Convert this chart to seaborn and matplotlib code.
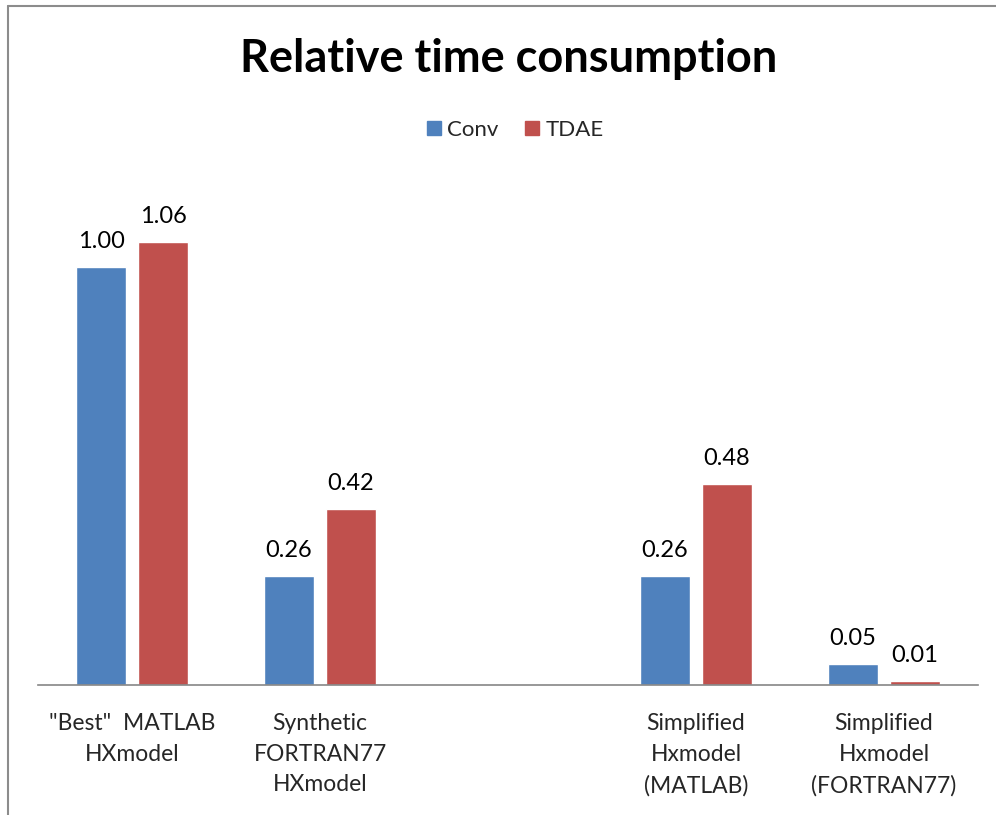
import seaborn as sns
import matplotlib.pyplot as plt
import pandas as pd
from matplotlib.lines import Line2D

# 資料
categories = ['"Best"  MATLAB\nHXmodel', 'Synthetic\nFORTRAN77\nHXmodel', '',
              'Simplified\nHxmodel\n(MATLAB)', 'Simplified\nHxmodel\n(FORTRAN77)']
series = ['Conv', 'TDAE']
conv_vals = [1.00, 0.26, None, 0.26, 0.05]
tdae_vals = [1.06, 0.42, None, 0.48, 0.01]
colors = ['#4F81BD', '#C0504D']

rows = []
for cat, c, t in zip(categories, conv_vals, tdae_vals):
    if c is not None:
        rows.append({'cat': cat, 'series': 'Conv', 'val': c})
    if t is not None:
        rows.append({'cat': cat, 'series': 'TDAE', 'val': t})
data = pd.DataFrame(rows)

sns.set_style("white")
plt.rcParams['font.family'] = ['Lato', 'DejaVu Sans']

fig = plt.figure(figsize=(9.96, 8.15), dpi=100)
ax = fig.add_axes([38 / 996, 130 / 815, 940 / 996, 501.6 / 815])

sns.barplot(data=data, x='cat', y='val', hue='series', order=categories,
            hue_order=series, palette=colors, width=0.66, gap=0.19,
            errorbar=None, ax=ax, legend=False, saturation=1)

for cont in ax.containers:
    ax.bar_label(cont, fmt='%.2f', padding=11, fontsize=17, color='black')

ax.set_ylim(0, 1.2)
ax.set_xlim(-0.5, len(categories) - 0.5)
ax.set_xlabel('')
ax.set_ylabel('')
ax.set_yticks([])
for s in ['top', 'right', 'left']:
    ax.spines[s].set_visible(False)
ax.spines['bottom'].set_color('#868686')
ax.spines['bottom'].set_linewidth(1.2)
ax.tick_params(axis='x', length=0, pad=20, labelsize=16.5)
for lab in ax.get_xticklabels():
    lab.set_linespacing(1.58)
    lab.set_horizontalalignment('center')

# 標題
fig.text(509 / 996, 1 - 59 / 815, 'Relative time consumption', ha='center',
         va='center', fontsize=32.5, fontweight='bold', color='black')

# 圖例
handles = [Line2D([], [], marker='s', linestyle='', markersize=9.5,
                  markerfacecolor=c, markeredgecolor=c) for c in colors]
fig.legend(handles, series, loc='center', bbox_to_anchor=(513 / 996, 1 - 130 / 815),
           ncol=2, frameon=False, fontsize=16, handletextpad=0.1,
           columnspacing=1.0, handlelength=1.0)

# 外框
fig.add_artist(Line2D([8 / 996, 8 / 996], [0, 1 - 6 / 815], color='#8c8c8c', lw=1.5))
fig.add_artist(Line2D([8 / 996, 1], [1 - 6 / 815, 1 - 6 / 815], color='#8c8c8c', lw=1.5))

fig.savefig('out.png', dpi=100)
